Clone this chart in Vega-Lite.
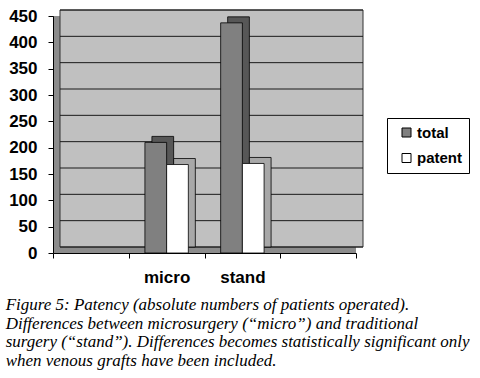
{
  "$schema": "https://vega.github.io/schema/vega-lite/v6.json",
  "width": 303,
  "height": 237,
  "autosize": {"type": "none"},
  "padding": {"left": 53, "top": 16, "right": 124, "bottom": 126},
  "background": "#ffffff",
  "view": {"fill": "#8c8c8c", "stroke": null},
  "config": {
    "axisY": {
      "title": null,
      "grid": false,
      "tickCount": 10,
      "labelOverlap": false,
      "domainColor": "#000000",
      "tickColor": "#000000",
      "tickSize": 5,
      "labelPadding": 11,
      "labelFont": "Liberation Sans",
      "labelFontWeight": "bold",
      "labelFontSize": 17,
      "labelColor": "#000000"
    },
    "axisX": {
      "title": null,
      "labelAngle": 0,
      "tickBand": "extent",
      "domainColor": "#000000",
      "tickColor": "#000000",
      "tickSize": 5,
      "labelPadding": 11,
      "labelFont": "Liberation Sans",
      "labelFontWeight": "bold",
      "labelFontSize": 17,
      "labelColor": "#000000",
      "grid": false
    }
  },
  "title": {
    "text": [
      "Figure 5: Patency (absolute numbers of patients operated).",
      "Differences between microsurgery (“micro”) and traditional",
      "surgery (“stand”). Differences becomes statistically significant only",
      "when venous grafts have been included."
    ],
    "orient": "bottom",
    "anchor": "start",
    "frame": "bounds",
    "font": "Liberation Serif",
    "fontStyle": "italic",
    "fontWeight": "normal",
    "fontSize": 17,
    "lineHeight": 18.7,
    "offset": 12,
    "dx": -3,
    "color": "#000000"
  },
  "datasets": {
    "bars": [
      {"group": "micro", "series": "total", "value": 210},
      {"group": "micro", "series": "patent", "value": 168},
      {"group": "stand", "series": "total", "value": 437},
      {"group": "stand", "series": "patent", "value": 170}
    ],
    "grid": [
      {"v": 0}, {"v": 50}, {"v": 100}, {"v": 150}, {"v": 200},
      {"v": 250}, {"v": 300}, {"v": 350}, {"v": 400}, {"v": 450}
    ],
    "wall": [{"lo": 0, "hi": 450}]
  },
  "resolve": {"scale": {"xOffset": "independent"}},
  "layer": [
    {
      "data": {"name": "wall"},
      "mark": {"type": "rect", "fill": "#c0c0c0", "stroke": "#333333", "strokeWidth": 1, "xOffset": 7, "x2Offset": 7, "yOffset": -6, "y2Offset": -6},
      "encoding": {
        "x": {
          "datum": "_1",
          "bandPosition": 0,
          "scale": {"domain": ["_1", "micro", "stand", "_2"], "paddingInner": 0, "paddingOuter": 0},
          "axis": {"labelExpr": "datum.label == 'micro' || datum.label == 'stand' ? datum.label : ''"}
        },
        "x2": {"datum": "_2", "bandPosition": 1},
        "y": {
          "field": "lo",
          "type": "quantitative",
          "scale": {"domain": [0, 450], "nice": false},
          "axis": {"values": [0, 50, 100, 150, 200, 250, 300, 350, 400, 450], "labelOverlap": false}
        },
        "y2": {"field": "hi"}
      }
    },
    {
      "data": {"name": "grid"},
      "mark": {"type": "rule", "color": "#1a1a1a", "strokeWidth": 1, "xOffset": 7, "x2Offset": 7, "yOffset": -6},
      "encoding": {
        "x": {"datum": "_1", "bandPosition": 0},
        "x2": {"datum": "_2", "bandPosition": 1},
        "y": {"field": "v", "type": "quantitative"}
      }
    },
    {
      "data": {"name": "bars"},
      "mark": {"type": "bar", "stroke": "#000000", "strokeWidth": 0.8, "yOffset": -6, "y2Offset": -6},
      "encoding": {
        "x": {"field": "group", "type": "nominal"},
        "xOffset": {
          "field": "series",
          "type": "nominal",
          "scale": {"domain": ["total", "patent"], "paddingInner": 0, "paddingOuter": 0.745, "range": [7, 82.75]}
        },
        "y": {"field": "value", "type": "quantitative"},
        "fill": {"condition": {"test": "datum.series == 'total'", "value": "#575757"}, "value": "#a8a8a8"}
      }
    },
    {
      "data": {"name": "bars"},
      "mark": {"type": "bar", "stroke": "#000000", "strokeWidth": 0.8},
      "encoding": {
        "x": {"field": "group", "type": "nominal"},
        "xOffset": {
          "field": "series",
          "type": "nominal",
          "scale": {"domain": ["total", "patent"], "paddingInner": 0, "paddingOuter": 0.745}
        },
        "y": {"field": "value", "type": "quantitative"},
        "color": {
          "field": "series",
          "type": "nominal",
          "scale": {"domain": ["total", "patent"], "range": ["#808080", "#ffffff"]},
          "legend": {
            "title": null,
            "orient": "none",
            "legendX": 334,
            "legendY": 102,
            "strokeColor": "#000000",
            "fillColor": "#ffffff",
            "padding": 7,
            "symbolOffset": 5,
            "symbolType": "square",
            "symbolSize": 81,
            "symbolStrokeColor": "#000000",
            "symbolStrokeWidth": 1,
            "labelFont": "Liberation Sans",
            "labelFontWeight": "bold",
            "labelFontSize": 15,
            "labelColor": "#000000",
            "labelOffset": 3,
            "rowPadding": 9.5
          }
        }
      }
    }
  ]
}
